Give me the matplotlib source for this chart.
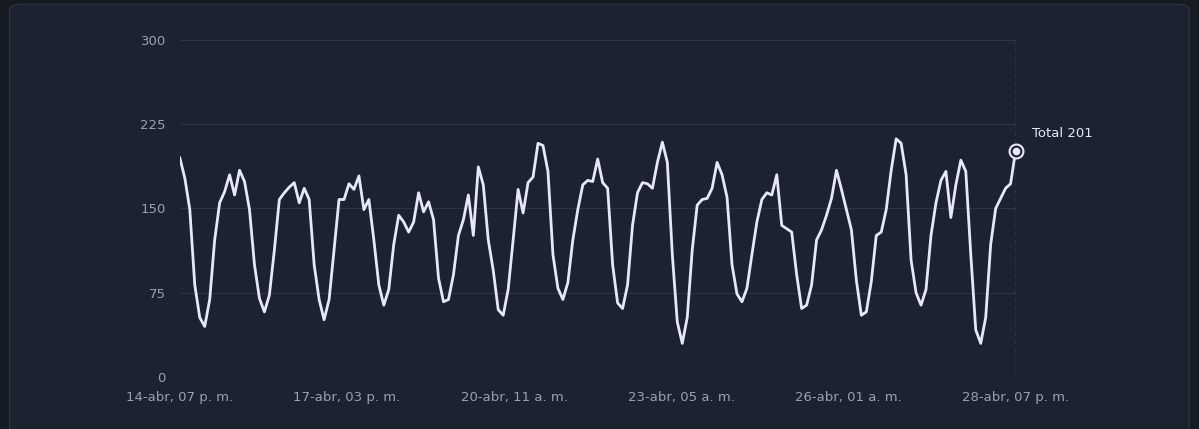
import matplotlib

matplotlib.use("Agg")

import matplotlib.pyplot as plt
from matplotlib.patches import FancyBboxPatch
import pandas as pd

# 2-hour samples, 14-abr 19:00 -> 28-abr 19:00
values = [
    195, 177, 149, 82, 53, 45, 69, 122, 155, 165, 180, 162, 184, 174, 149, 100, 70, 58, 73, 113,
    158, 164, 169, 173, 155, 168, 158, 100, 69, 51, 69, 113, 158, 158, 172, 167, 179, 149, 158, 122,
    82, 64, 78, 118, 144, 138, 129, 138, 164, 147, 156, 140, 88, 67, 69, 91, 126, 140, 162, 126,
    187, 171, 122, 95, 60, 55, 78, 122, 167, 146, 173, 178, 208, 206, 183, 109, 79, 69, 84, 122,
    149, 171, 175, 174, 194, 173, 168, 100, 66, 61, 82, 135, 164, 173, 172, 168, 191, 209, 191, 109,
    49, 30, 53, 113, 153, 158, 159, 168, 191, 180, 160, 100, 74, 67, 79, 109, 138, 158, 164, 162,
    180, 135, 132, 129, 91, 61, 64, 82, 122, 131, 144, 159, 184, 167, 149, 131, 86, 55, 58, 85,
    126, 129, 149, 184, 212, 208, 180, 104, 75, 64, 78, 126, 155, 175, 183, 142, 171, 193, 183, 109,
    42, 30, 53, 118, 150, 159, 168, 172, 201,
]
start = pd.Timestamp("2024-04-14 19:00")
end = pd.Timestamp("2024-04-28 19:00")
times = pd.date_range(start, end, periods=len(values))
tick_times = pd.date_range(start, end, periods=6)
tick_labels = ["14-abr, 07 p. m.", "17-abr, 03 p. m.", "20-abr, 11 a. m.",
               "23-abr, 05 a. m.", "26-abr, 01 a. m.", "28-abr, 07 p. m."]
y_ticks = [0, 75, 150, 225, 300]

fig = plt.figure(figsize=(11.99, 4.29), dpi=100, facecolor="#161a22")
card = FancyBboxPatch((0.008, -0.05), 0.984, 1.04, boxstyle="round,pad=0,rounding_size=0.012",
                      transform=fig.transFigure, facecolor="#1d2230", edgecolor="#2c3140", lw=1,
                      zorder=-10)
fig.patches.append(card)

ax = fig.add_axes([0.150, 0.121, 0.697, 0.786])
ax.set_zorder(5)
ax.set_facecolor("none")
ax.plot(times, values, color="#e6e9f5", lw=2, zorder=3)
ax.set_xlim(start, end)
ax.set_ylim(0, 300)
ax.set_yticks(y_ticks)
ax.set_xticks(tick_times)
ax.set_xticklabels(tick_labels)
ax.tick_params(colors="#9aa0ae", labelsize=9.5, length=0, pad=10)
ax.grid(axis="y", color="#2f3442", lw=0.8)
for s in ax.spines.values():
    s.set_visible(False)
ax.axhline(0, color="#3a3f4d", lw=0.8)
ax.axvline(end, color="#6a6f7c", lw=1, ls=(0, (3, 3)))
ax.plot(times[-1], values[-1], "o", ms=10, mfc="#1d2230", mec="#e6e9f5", mew=1.5, zorder=4, clip_on=False)
ax.plot(times[-1], values[-1], "o", ms=4.5, color="#e6e9f5", zorder=5, clip_on=False)
ax.annotate(f"Total {values[-1]}", (times[-1], values[-1]), xytext=(12, 8),
            textcoords="offset points", color="#e6e9f5", fontsize=9.5, va="bottom")

fig.savefig("out.png", dpi=100, facecolor=fig.get_facecolor())
